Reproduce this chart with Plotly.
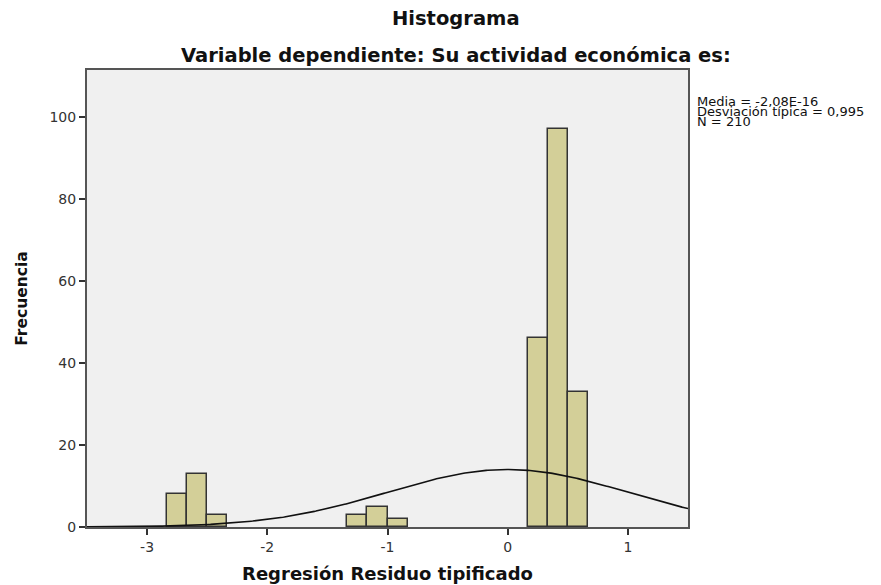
import numpy as np
import plotly.graph_objects as go

# Histogram of standardized regression residuals (bins of width 1/6)
bin_centers = [-2.75, -2.5833, -2.4167, -1.25, -1.0833, -0.9167, 0.25, 0.4167, 0.5833]
counts = [8, 13, 3, 3, 5, 2, 46, 97, 33]
bin_width = 1 / 6

# Summary statistics shown beside the chart
mean_value = -2.08e-16
std_value = 0.995
n_value = 210

x_ticks = [-3, -2, -1, 0, 1]
y_ticks = [0, 20, 40, 60, 80, 100]

# Normal curve scaled to the histogram counts
xs = np.linspace(-3.5, 1.5, 400)
ys = n_value * bin_width * np.exp(-0.5 * ((xs - mean_value) / std_value) ** 2) / (std_value * np.sqrt(2 * np.pi))

fig = go.Figure()
fig.add_trace(go.Bar(
    x=bin_centers, y=counts, width=bin_width,
    marker=dict(color="#d3cf98", line=dict(color="#333333", width=1.5)),
    showlegend=False, hoverinfo="x+y",
))
fig.add_trace(go.Scatter(
    x=xs, y=ys, mode="lines",
    line=dict(color="#111111", width=1.6),
    showlegend=False, hoverinfo="skip",
))

tick_font = dict(family="DejaVu Sans", size=14, color="#333333")
stat_font = dict(family="DejaVu Sans", size=13, color="#111111")
title_font = dict(family="DejaVu Sans", size=19.5, color="#111111")
fig.update_layout(
    width=881, height=585,
    margin=dict(l=87, r=193, t=70, b=58),
    paper_bgcolor="white", plot_bgcolor="#f0f0f0",
    bargap=0,
    xaxis=dict(
        range=[-3.5, 1.5], tickvals=x_ticks, ticktext=[str(v) for v in x_ticks],
        ticks="outside", ticklen=6, tickwidth=1.5, tickcolor="#333333",
        showline=True, linecolor="#555555", linewidth=2, mirror=True,
        showgrid=False, zeroline=False, tickfont=tick_font, automargin=False,
        title=dict(text="<b>Regresión Residuo tipificado</b>",
                   font=dict(family="DejaVu Sans", size=18, color="#111111"), standoff=14),
    ),
    yaxis=dict(
        range=[0, 111.5], tickvals=y_ticks,
        ticks="outside", ticklen=6, tickwidth=1.5, tickcolor="#333333",
        showline=True, linecolor="#555555", linewidth=2, mirror=True,
        showgrid=False, zeroline=False, tickfont=tick_font, automargin=False,
        title=dict(text="<b>Frecuencia</b>",
                   font=dict(family="DejaVu Sans", size=15.5, color="#111111"), standoff=18),
    ),
    annotations=[
        dict(text="<b>Histograma</b>", xref="paper", yref="paper", x=0.614, y=1,
             yshift=52, xanchor="center", yanchor="middle", showarrow=False,
             font=title_font),
        dict(text="<b>Variable dependiente: Su actividad económica es:</b>", xref="paper",
             yref="paper", x=0.614, y=1, yshift=15, xanchor="center", yanchor="middle",
             showarrow=False, font=title_font),
        dict(text="Media = -2,08E-16", xref="paper", yref="paper", x=1, xshift=7,
             y=1, yshift=-31, xanchor="left", yanchor="middle", showarrow=False,
             font=stat_font),
        dict(text="Desviación típica = 0,995", xref="paper", yref="paper", x=1, xshift=7,
             y=1, yshift=-41, xanchor="left", yanchor="middle", showarrow=False,
             font=stat_font),
        dict(text="N = 210", xref="paper", yref="paper", x=1, xshift=7,
             y=1, yshift=-51.5, xanchor="left", yanchor="middle", showarrow=False,
             font=stat_font),
    ],
)

fig.write_html("out.html")
